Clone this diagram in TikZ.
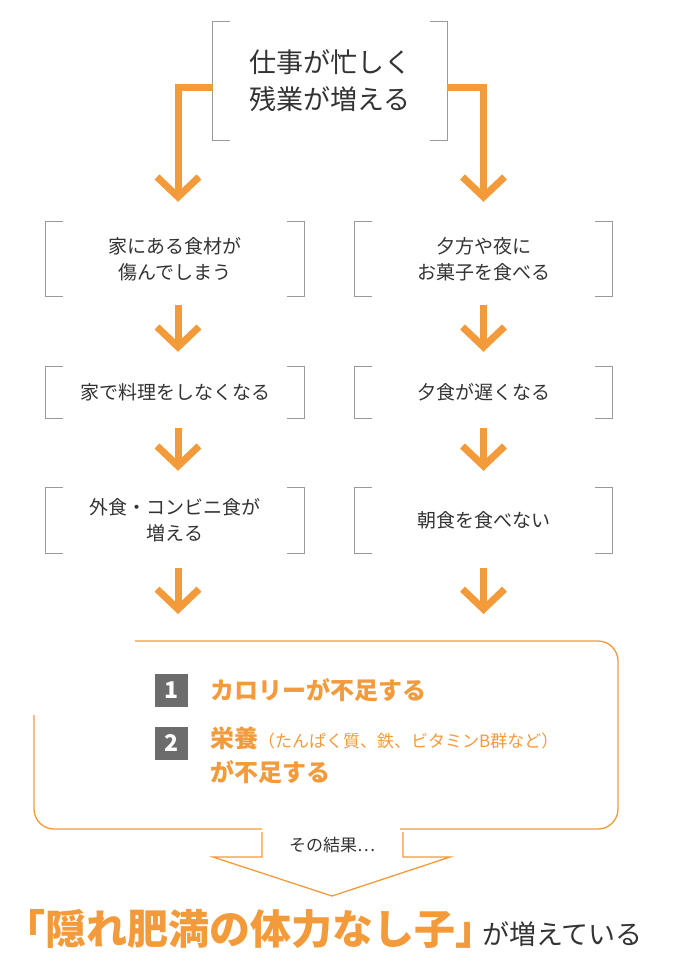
\documentclass[tikz,border=0pt]{standalone}
\usepackage{fontspec}
\setmainfont{Noto Sans CJK JP}
\usetikzlibrary{arrows.meta}
\definecolor{org}{HTML}{F39A3B}
\definecolor{txt}{HTML}{333333}
\definecolor{brk}{HTML}{9A9A9A}
\tikzset{
  box/.style={minimum width=#1, align=center, text=txt, font=\fontsize{19}{26}\selectfont, inner sep=0},
  br/.style={draw=brk, line width=0.9pt},
  oarr/.style={draw=org, line width=7pt, -{Straight Barb[length=20pt,width=42pt,line width=7pt]}},
  otl/.style={draw=org, line width=1.3pt},
  num/.style={fill=gray!85!black, text=white, minimum size=33pt, inner sep=0, font=\bfseries\fontsize{23}{23}\selectfont}
}
\begin{document}
\begin{tikzpicture}[x=1pt,y=-1pt]
\useasboundingbox (0,0) rectangle (673,965);
\newcommand{\brk}[1]{%
  \draw[br] ([xshift=17pt]#1.north west) -- (#1.north west) -- (#1.south west) -- ([xshift=17pt]#1.south west);
  \draw[br] ([xshift=-17pt]#1.north east) -- (#1.north east) -- (#1.south east) -- ([xshift=-17pt]#1.south east);}
\node[box=234pt, minimum height=118pt, font=\fontsize{27}{37}\selectfont] (top) at (330,81) {仕事が忙しく\\残業が増える};
\node[box=258pt, minimum height=74pt] (l1) at (175,259) {家にある食材が\\傷んでしまう};
\node[box=257pt, minimum height=74pt] (r1) at (483.5,259) {夕方や夜に\\お菓子を食べる};
\node[box=258pt, minimum height=51pt] (l2) at (175,392.5) {家で料理をしなくなる};
\node[box=257pt, minimum height=51pt] (r2) at (483.5,392.5) {夕食が遅くなる};
\node[box=258pt, minimum height=65pt] (l3) at (175,520.5) {外食・コンビニ食が\\増える};
\node[box=257pt, minimum height=65pt] (r3) at (483.5,520.5) {朝食を食べない};
\foreach \n in {top,l1,r1,l2,r2,l3,r3} {\brk{\n}}
\draw[oarr] ([yshift=-7pt]top.west) -| ([yshift=20pt,xshift=3pt]l1.north);
\draw[oarr] ([yshift=-7pt]top.east) -| ([yshift=20pt]r1.north);
\draw[oarr] ([yshift=-9pt,xshift=3pt]l1.south) -- ([yshift=15pt,xshift=3pt]l2.north);
\draw[oarr] ([yshift=-9pt]r1.south) -- ([yshift=15pt]r2.north);
\draw[oarr] ([yshift=-10pt,xshift=3pt]l2.south) -- ([yshift=17pt,xshift=3pt]l3.north);
\draw[oarr] ([yshift=-10pt]r2.south) -- ([yshift=17pt]r3.north);
\coordinate (bl) at (178,614);
\coordinate (bR) at (483.5,614);
\draw[oarr] ([yshift=-15pt,xshift=3pt]l3.south) -- (bl);
\draw[oarr] ([yshift=-15pt]r3.south) -- (bR);
% big box
\draw[otl, rounded corners=20pt] (135,641) -- (618,641) -- (618,829) -- (400,829);
\draw[otl, rounded corners=20pt] (262,829) -- (34,829) -- (34,715);
\node[num] (n1) at (171.5,690) {1};
\node[num] (n2) at (171.5,743) {2};
\node[anchor=west, text=org, font=\bfseries\fontsize{24}{24}\selectfont, inner sep=0] (t1) at (210,690) {カロリーが不足する};
\node[anchor=north west, text=org, align=left, font=\bfseries\fontsize{24}{34}\selectfont, inner sep=0] (t2) at (210,727) {栄養{\mdseries\fontsize{17}{17}\selectfont（たんぱく質、鉄、ビタミンB群など）}\\が不足する};
% result arrow
\coordinate (a1) at (262,832);
\coordinate (a2) at (262,857);
\coordinate (a3) at (213,857);
\coordinate (tip) at (332,896);
\coordinate (a4) at (450,857);
\coordinate (a5) at (403,857);
\coordinate (a6) at (403,832);
\draw[otl] (a1) -- (a2) -- (a3) -- (tip) -- (a4) -- (a5) -- (a6);
\node[text=txt, font=\fontsize{17}{17}\selectfont] (res) at (332,845) {その結果…};
\node[anchor=base west, inner sep=0] (fin) at (4,944) {{\color{org}\bfseries\fontsize{41}{41}\selectfont「隠れ肥満の体力なし子」\kern-14pt}{\color{txt}\fontsize{27}{27}\selectfont が増えている}};
\end{tikzpicture}
\end{document}
